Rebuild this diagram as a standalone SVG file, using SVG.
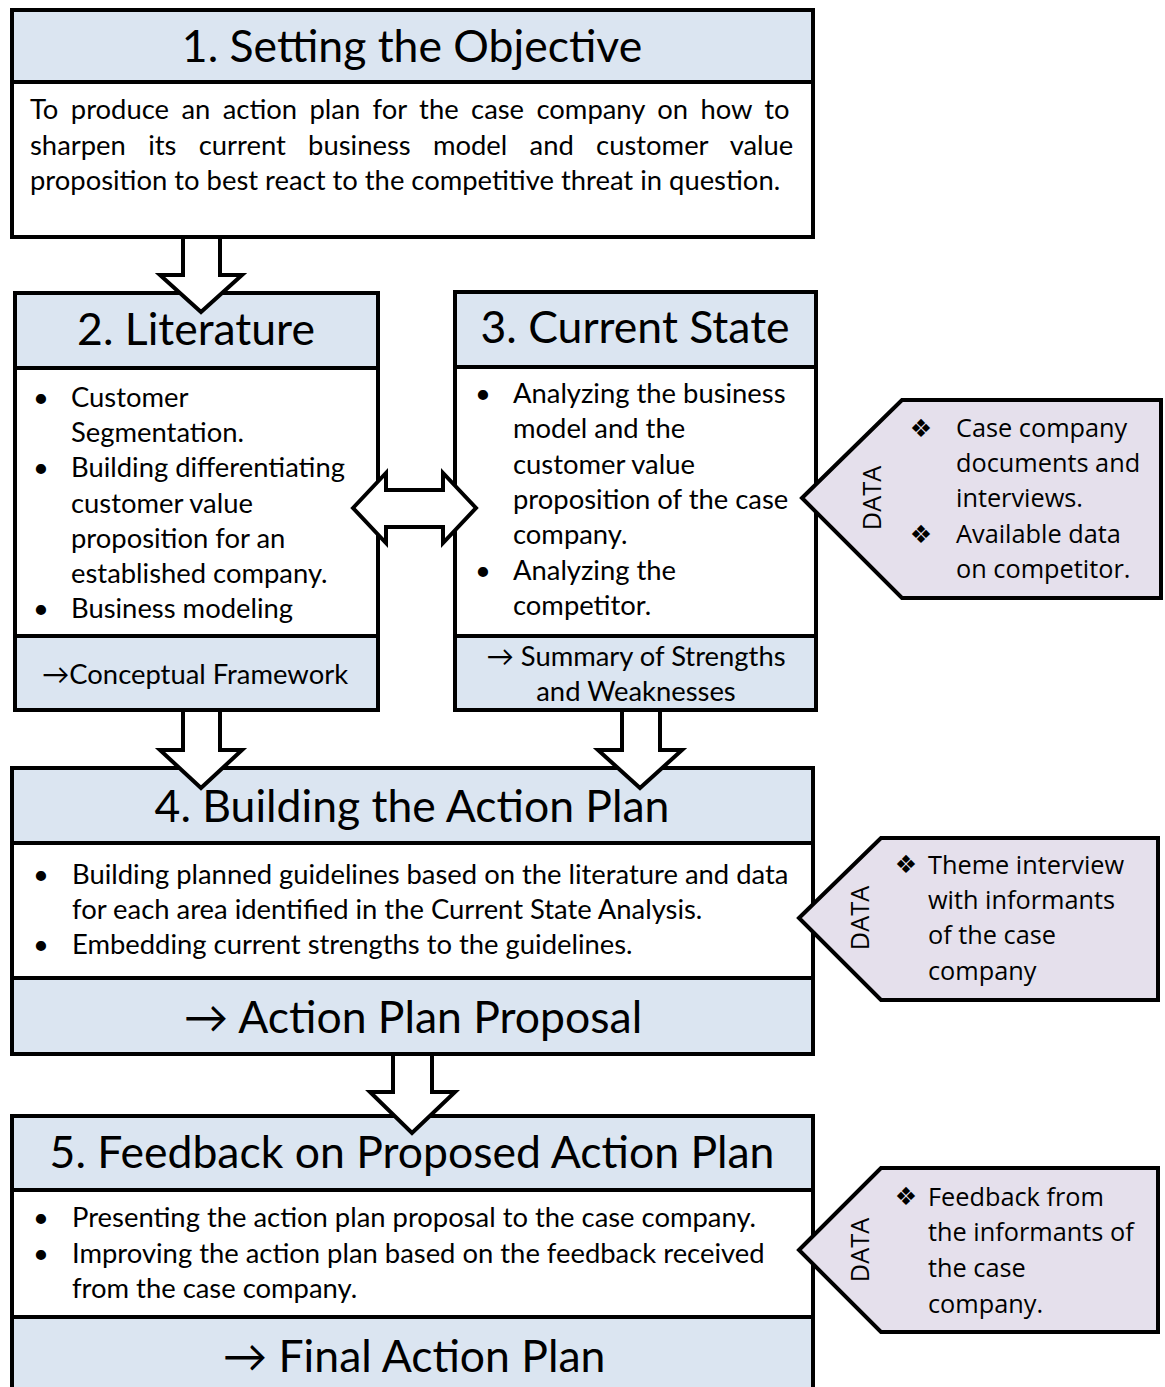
<svg xmlns="http://www.w3.org/2000/svg" width="1165" height="1387" viewBox="0 0 1165 1387">
  <style>
    .frame { fill: none; stroke: #000; stroke-width: 4; stroke-linejoin: miter; }
    .band { fill: #dbe5f1; }
    .body { fill: #fff; }
    .rule { stroke: #000; stroke-width: 4; }
    .arrow { fill: #fff; stroke: #000; stroke-width: 4; stroke-linejoin: miter; }
    .data { fill: #e5e0ec; stroke: #000; stroke-width: 4; stroke-linejoin: miter; }
    .title { font-family: Lato, "Liberation Sans", sans-serif; font-size: 44.5px; fill: #000; text-anchor: middle; }
    .txt { font-family: Lato, "Liberation Sans", sans-serif; font-size: 27.4px; fill: #000; }
    .mid { text-anchor: middle; }
    .dtxt { font-family: "Open Sans", "DejaVu Sans", sans-serif; font-size: 25.3px; fill: #000; }
    .gem { font-family: "DejaVu Sans", sans-serif; font-size: 25px; fill: #000; text-anchor: middle; }
  </style>

  <rect width="1165" height="1387" fill="#fff"/>

  <!-- 1. Setting the Objective -->
  <g id="step1">
    <rect x="12" y="10" width="801" height="72" class="band"/>
    <rect x="12" y="82" width="801" height="155" class="body"/>
    <line x1="12" y1="82" x2="813" y2="82" class="rule"/>
    <rect x="12" y="10" width="801" height="227" class="frame"/>
    <text x="412" y="62" class="title">1. Setting the Objective</text>
    <!-- justified paragraph: word gaps widened on the first two lines -->
    <text x="30" y="119" class="txt" word-spacing="5.4">To produce an action plan for the case company on how to</text>
    <text x="30" y="155" class="txt" word-spacing="15.3">sharpen its current business model and customer value</text>
    <text x="30" y="190" class="txt">proposition to best react to the competitive threat in question.</text>
  </g>

  <!-- 2. Literature -->
  <g id="step2">
    <rect x="15" y="293" width="363" height="75" class="band"/>
    <rect x="15" y="368" width="363" height="268" class="body"/>
    <rect x="15" y="636" width="363" height="74" class="band"/>
    <line x1="15" y1="368" x2="378" y2="368" class="rule"/>
    <line x1="15" y1="636" x2="378" y2="636" class="rule"/>
    <rect x="15" y="293" width="363" height="417" class="frame"/>
    <text x="196" y="345" class="title">2. Literature</text>
    <text x="33" y="407" class="txt">•</text>
    <text x="71" y="407" class="txt">Customer</text>
    <text x="71" y="442" class="txt">Segmentation.</text>
    <text x="33" y="477" class="txt">•</text>
    <text x="71" y="477" class="txt">Building differentiating</text>
    <text x="71" y="513" class="txt">customer value</text>
    <text x="71" y="548" class="txt">proposition for an</text>
    <text x="71" y="583" class="txt">established company.</text>
    <text x="33" y="618" class="txt">•</text>
    <text x="71" y="618" class="txt">Business modeling</text>
    <text x="195" y="684" class="txt mid">→Conceptual Framework</text>
  </g>

  <!-- 3. Current State -->
  <g id="step3">
    <rect x="455" y="292" width="361" height="75" class="band"/>
    <rect x="455" y="367" width="361" height="269" class="body"/>
    <rect x="455" y="636" width="361" height="74" class="band"/>
    <line x1="455" y1="367" x2="816" y2="367" class="rule"/>
    <line x1="455" y1="636" x2="816" y2="636" class="rule"/>
    <rect x="455" y="292" width="361" height="418" class="frame"/>
    <text x="635" y="343" class="title">3. Current State</text>
    <text x="475" y="403" class="txt">•</text>
    <text x="513" y="403" class="txt">Analyzing the business</text>
    <text x="513" y="438" class="txt">model and the</text>
    <text x="513" y="474" class="txt">customer value</text>
    <text x="513" y="509" class="txt">proposition of the case</text>
    <text x="513" y="544" class="txt">company.</text>
    <text x="475" y="580" class="txt">•</text>
    <text x="513" y="580" class="txt">Analyzing the</text>
    <text x="513" y="615" class="txt">competitor.</text>
    <text x="636" y="666" class="txt mid">→ Summary of Strengths</text>
    <text x="636" y="701" class="txt mid">and Weaknesses</text>
  </g>

  <!-- 4. Building the Action Plan -->
  <g id="step4">
    <rect x="12" y="768" width="801" height="75" class="band"/>
    <rect x="12" y="843" width="801" height="135" class="body"/>
    <rect x="12" y="978" width="801" height="76" class="band"/>
    <line x1="12" y1="843" x2="813" y2="843" class="rule"/>
    <line x1="12" y1="978" x2="813" y2="978" class="rule"/>
    <rect x="12" y="768" width="801" height="286" class="frame"/>
    <text x="412" y="822" class="title">4. Building the Action Plan</text>
    <text x="33" y="884" class="txt">•</text>
    <text x="72" y="884" class="txt">Building planned guidelines based on the literature and data</text>
    <text x="72" y="919" class="txt">for each area identified in the Current State Analysis.</text>
    <text x="33" y="954" class="txt">•</text>
    <text x="72" y="954" class="txt">Embedding current strengths to the guidelines.</text>
    <text x="413" y="1033" class="title">→ Action Plan Proposal</text>
  </g>

  <!-- 5. Feedback on Proposed Action Plan -->
  <g id="step5">
    <rect x="12" y="1116" width="801" height="74" class="band"/>
    <rect x="12" y="1190" width="801" height="127" class="body"/>
    <rect x="12" y="1317" width="801" height="90" class="band"/>
    <line x1="12" y1="1190" x2="813" y2="1190" class="rule"/>
    <line x1="12" y1="1317" x2="813" y2="1317" class="rule"/>
    <rect x="12" y="1116" width="801" height="291" class="frame"/>
    <text x="412" y="1168" class="title">5. Feedback on Proposed Action Plan</text>
    <text x="33" y="1227" class="txt">•</text>
    <text x="72" y="1227" class="txt">Presenting the action plan proposal to the case company.</text>
    <text x="33" y="1263" class="txt">•</text>
    <text x="72" y="1263" class="txt">Improving the action plan based on the feedback received</text>
    <text x="72" y="1298" class="txt">from the case company.</text>
    <text x="414" y="1372" class="title">→ Final Action Plan</text>
  </g>

  <!-- data sources feeding steps 3, 4 and 5 -->
  <g id="data3">
    <polygon points="802,498 902,400 1161,400 1161,598 902,598" class="data"/>
    <text transform="translate(872,498) rotate(-90)" y="9" class="dtxt mid">DATA</text>
    <text x="921" y="437" class="gem">❖</text>
    <text x="956" y="437" class="dtxt">Case company</text>
    <text x="956" y="472" class="dtxt">documents and</text>
    <text x="956" y="507" class="dtxt">interviews.</text>
    <text x="921" y="543" class="gem">❖</text>
    <text x="956" y="543" class="dtxt">Available data</text>
    <text x="956" y="578" class="dtxt">on competitor.</text>
  </g>

  <g id="data4">
    <polygon points="799,918 881,838 1158,838 1158,1000 881,1000" class="data"/>
    <text transform="translate(860,918) rotate(-90)" y="9" class="dtxt mid">DATA</text>
    <text x="906" y="873" class="gem">❖</text>
    <text x="928" y="874" class="dtxt">Theme interview</text>
    <text x="928" y="909" class="dtxt">with informants</text>
    <text x="928" y="944" class="dtxt">of the case</text>
    <text x="928" y="980" class="dtxt">company</text>
  </g>

  <g id="data5">
    <polygon points="799,1250 881,1168 1158,1168 1158,1332 881,1332" class="data"/>
    <text transform="translate(860,1250) rotate(-90)" y="9" class="dtxt mid">DATA</text>
    <text x="906" y="1205" class="gem">❖</text>
    <text x="928" y="1206" class="dtxt">Feedback from</text>
    <text x="928" y="1241" class="dtxt">the informants of</text>
    <text x="928" y="1277" class="dtxt">the case</text>
    <text x="928" y="1313" class="dtxt">company.</text>
  </g>

  <!-- block arrows between the steps -->
  <g id="connectors">
    <polygon points="183,237 220,237 220,275 242,275 201,312 160,275 183,275" class="arrow"/>
    <polygon points="353,508 386,473 386,490 443,490 443,473 476,508 443,543 443,527 386,527 386,543" class="arrow"/>
    <polygon points="183,710 220,710 220,750 242,750 201,788 160,750 183,750" class="arrow"/>
    <polygon points="622,710 660,710 660,750 682,750 640,788 598,750 622,750" class="arrow"/>
    <polygon points="393,1054 432,1054 432,1092 455,1092 412,1133 370,1092 393,1092" class="arrow"/>
  </g>
</svg>
